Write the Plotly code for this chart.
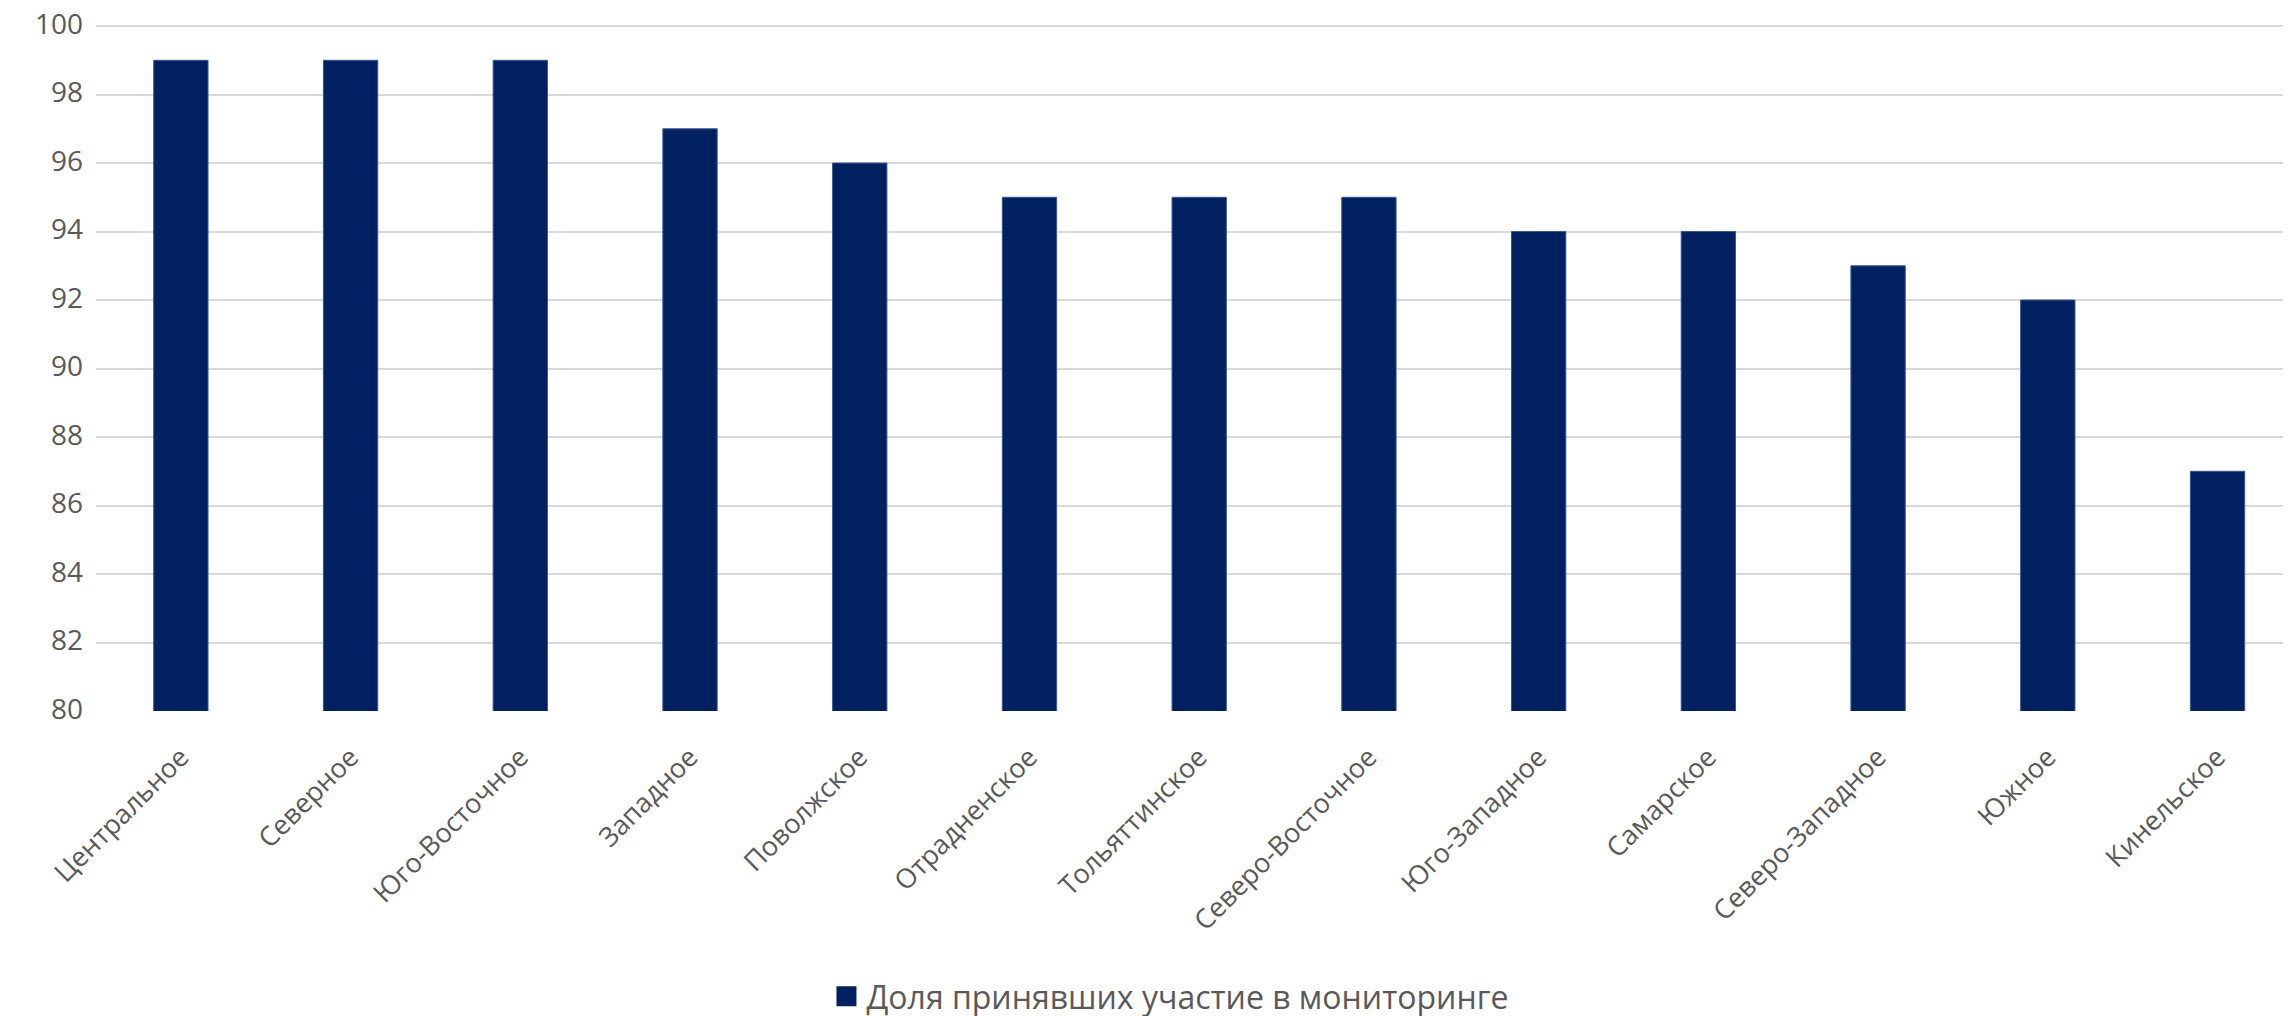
import plotly.graph_objects as go

categories = ["Центральное", "Северное", "Юго-Восточное", "Западное", "Поволжское",
              "Отрадненское", "Тольяттинское", "Северо-Восточное", "Юго-Западное",
              "Самарское", "Северо-Западное", "Южное", "Кинельское"]
values = [99, 99, 99, 97, 96, 95, 95, 95, 94, 94, 93, 92, 87]
series_name = "Доля принявших участие в мониторинге"

FONT = "Open Sans"
TXT = "#595959"
BAR = "#002060"

fig = go.Figure()
fig.add_trace(go.Bar(
    x=categories, y=values, name=series_name,
    marker=dict(color=BAR, line=dict(color="#3a5590", width=1)),
    showlegend=False,
))
# legend entry with a larger square swatch
fig.add_trace(go.Scatter(
    x=[None], y=[None], mode="markers", name=series_name,
    marker=dict(symbol="square", size=16, color=BAR, line=dict(color=BAR, width=4)),
    showlegend=True,
))

fig.update_layout(
    width=2291, height=1016,
    margin=dict(l=88, r=0, t=16, b=304),
    paper_bgcolor="white", plot_bgcolor="white",
    bargap=0.68,
    font=dict(family=FONT, color=TXT, size=28),
    showlegend=True,
    legend=dict(orientation="h", x=0.4875, xanchor="center", y=-0.416, yanchor="middle",
                font=dict(family=FONT, size=32, color=TXT), itemsizing="trace"),
    xaxis=dict(type="category", range=[-0.5, 12.48], tickangle=-45,
               tickfont=dict(family=FONT, size=27, color=TXT),
               showgrid=False, showline=False, ticks="", automargin=False,
               ticklabelstandoff=24),
    yaxis=dict(range=[80, 100.06], tickvals=[80, 82, 84, 86, 88, 90, 92, 94, 96, 98, 100],
               showgrid=True, gridcolor="#d9d9d9",
               gridwidth=2, zeroline=False, showline=False, ticks="", automargin=False,
               ticklabeloverflow="allow", ticklabelshift=-2,
               tickfont=dict(family=FONT, size=28, color=TXT), ticklabelstandoff=12),
)

fig.write_html("out.html")
